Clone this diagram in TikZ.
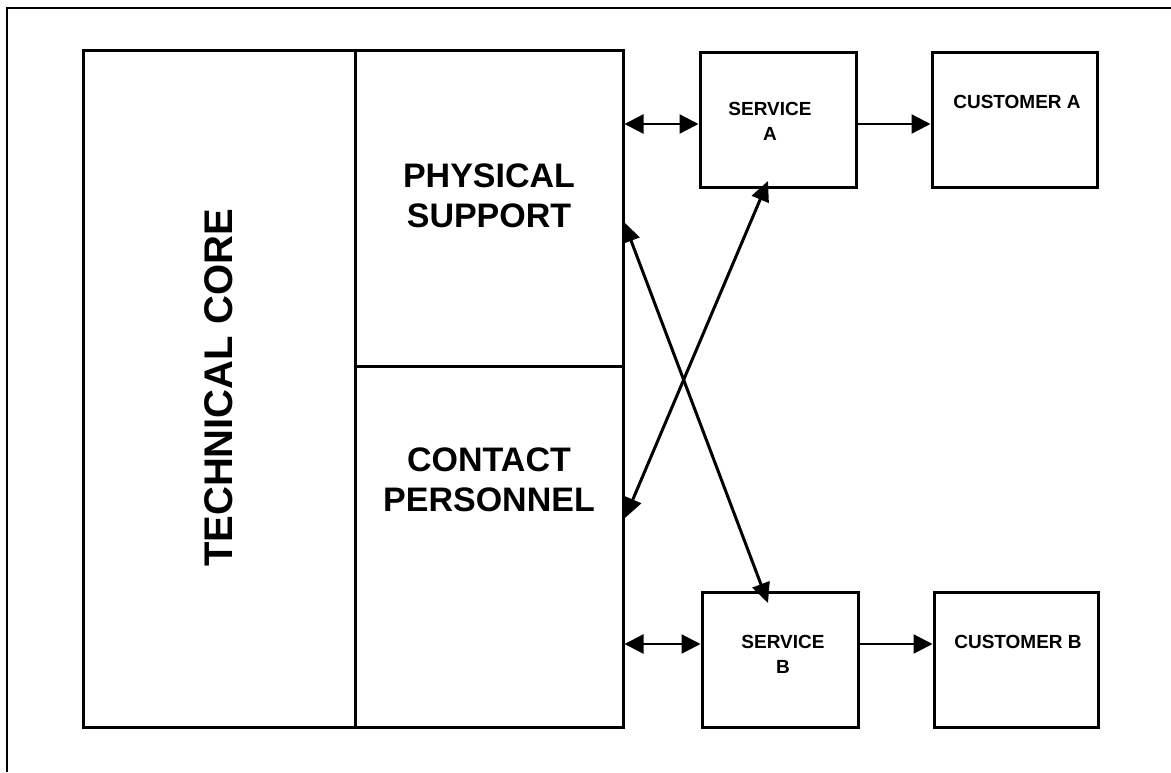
\documentclass[tikz,border=0pt]{standalone}
\usepackage{fontspec}
\setmainfont{Liberation Sans}
\usetikzlibrary{arrows.meta,calc}
\begin{document}
\begin{tikzpicture}[x=1pt,y=-1pt,
  box/.style={draw=black,line width=3pt,rectangle,inner sep=0pt},
  lbl/.style={font=\bfseries,align=center,inner sep=0pt},
  arr/.style={line width=2.4pt,-{Triangle[length=19pt,width=19pt]}},
  darr/.style={line width=2.4pt,{Triangle[length=19pt,width=19pt]}-{Triangle[length=19pt,width=19pt]}},
  xarr/.style={line width=3pt,{Triangle[length=20pt,width=18pt]}-{Triangle[length=20pt,width=18pt]}}]
\useasboundingbox (0,0) rectangle (1171,772);
% outer frame (top and left)
\coordinate (fr1) at (1171,8);
\coordinate (fr0) at (7,8);
\coordinate (fr2) at (7,772);
\draw[line width=2.5pt] (fr1) -- (fr0) -- (fr2);
% main block
\node[box,minimum width=272pt,minimum height=677pt] (tc) at (219,388.5) {};
\node[box,minimum width=268pt,minimum height=316pt] (ps) at (489,208) {};
\node[box,minimum width=268pt,minimum height=361pt] (cp) at (489,546.5) {};
\node[lbl,font=\bfseries\fontsize{40}{40}\selectfont,rotate=90] (tct) at (219,388) {TECHNICAL CORE};
\node[lbl,font=\bfseries\fontsize{34}{40}\selectfont] (pst) at (489,196) {PHYSICAL\\SUPPORT};
\node[lbl,font=\bfseries\fontsize{34}{40}\selectfont] (cpt) at (489,480) {CONTACT\\PERSONNEL};
% service and customer boxes
\node[box,minimum width=156pt,minimum height=135pt] (sa) at (778,119.5) {};
\node[box,minimum width=165pt,minimum height=135pt] (ca) at (1014.5,119.5) {};
\node[box,minimum width=156pt,minimum height=135pt] (sb) at (780,659.5) {};
\node[box,minimum width=164pt,minimum height=135pt] (cb) at (1016,659.5) {};
\node[lbl,font=\bfseries\fontsize{19}{25}\selectfont] (sat) at (770,121) {SERVICE\\A};
\node[lbl,font=\bfseries\fontsize{19}{25}\selectfont] (cat) at (1017,102) {CUSTOMER A};
\node[lbl,font=\bfseries\fontsize{19}{25}\selectfont] (sbt) at (783,654) {SERVICE\\B};
\node[lbl,font=\bfseries\fontsize{19}{25}\selectfont] (cbt) at (1018,642) {CUSTOMER B};
% connectors
\coordinate (ya) at (0,124);
\coordinate (yb) at (0,644);
\draw[darr] (ps.east |- ya) -- (sa.west |- ya);
\draw[arr] (sa.east |- ya) -- (ca.west |- ya);
\draw[darr] (cp.east |- yb) -- (sb.west |- yb);
\draw[arr] (sb.east |- yb) -- (cb.west |- yb);
\coordinate (p1) at (624,222);
\coordinate (p2) at (768,603);
\coordinate (q1) at (625,518);
\coordinate (q2) at (768,181);
\draw[xarr] (p1) -- (p2);
\draw[xarr] (q1) -- (q2);
\end{tikzpicture}
\end{document}
